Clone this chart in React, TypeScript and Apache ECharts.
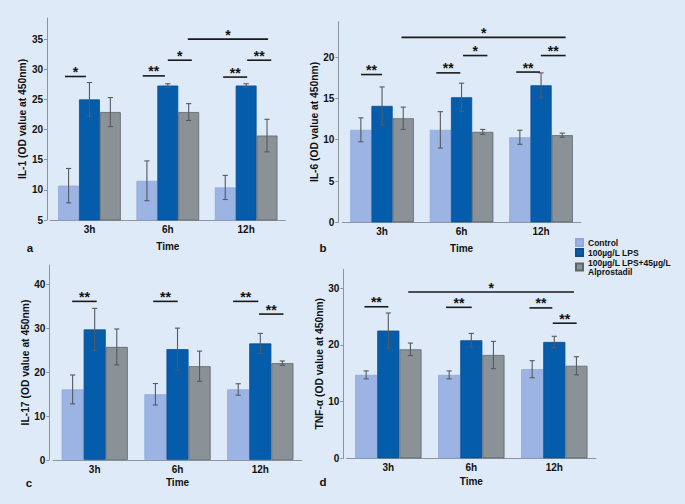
import React, { useEffect, useRef } from "react";
import * as echarts from "echarts";

// ---------- data ----------
const categories = ["3h", "6h", "12h"];
const groupNames = ["Control", "100µg/L LPS", "100µg/L LPS+45µg/L\nAlprostadil"];

// IL-1 (panel a)
const il1Control = [10.7, 11.5, 10.4];
const il1ControlSd = [2.85, 3.3, 2.0];
const il1Lps = [25.0, 27.3, 27.3];
const il1LpsSd = [2.8, 0.3, 0.3];
const il1Alpro = [22.9, 22.9, 19.0];
const il1AlproSd = [2.4, 1.4, 2.7];
const il1Ticks = [5, 10, 15, 20, 25, 30, 35];
// bracket: [cat1, barOffset1, cat2, barOffset2, y, label]
const il1Brackets: [number, number, number, number, number, string][] = [
  [0, -1.17, 0, -0.17, 28.8, "*"],
  [1, -1.2, 1, -0.14, 28.9, "**"],
  [1, 0.0, 1, 1.15, 31.5, "*"],
  [1, 0.96, 2, 1.05, 35.0, "*"],
  [2, 0.05, 2, 1.2, 31.5, "**"],
  [2, -1.1, 2, 0.05, 28.7, "**"],
];

// IL-6 (panel b)
const il6Control = [11.2, 11.2, 10.3];
const il6ControlSd = [1.45, 2.2, 0.85];
const il6Lps = [14.1, 15.15, 16.6];
const il6LpsSd = [2.3, 1.7, 1.5];
const il6Alpro = [12.6, 10.95, 10.55];
const il6AlproSd = [1.35, 0.3, 0.25];
const il6Ticks = [0, 5, 10, 15, 20];
const il6Brackets: [number, number, number, number, number, string][] = [
  [0, -0.99, 0, 0.0, 17.9, "**"],
  [1, -1.19, 1, -0.06, 18.1, "**"],
  [1, 0.07, 1, 1.22, 20.2, "*"],
  [0, 0.92, 2, 1.16, 22.4, "*"],
  [2, -1.17, 2, -0.05, 18.2, "**"],
  [2, -0.01, 2, 1.16, 20.2, "**"],
];

// IL-17 (panel c)
const il17Control = [16.1, 15.0, 16.1];
const il17ControlSd = [3.3, 2.45, 1.3];
const il17Lps = [29.8, 25.3, 26.6];
const il17LpsSd = [4.8, 4.8, 2.3];
const il17Alpro = [25.8, 21.4, 22.1];
const il17AlproSd = [4.1, 3.45, 0.5];
const il17Ticks = [0, 10, 20, 30, 40];
const il17Brackets: [number, number, number, number, number, string][] = [
  [0, -1.02, 0, 0.09, 36.2, "**"],
  [1, -1.1, 1, 0.01, 36.2, "**"],
  [2, -1.23, 2, -0.09, 36.2, "**"],
  [2, -0.06, 2, 1.05, 33.3, "**"],
];

// TNF-α (panel d)
const tnfControl = [14.7, 14.7, 15.7];
const tnfControlSd = [0.7, 0.7, 1.5];
const tnfLps = [22.5, 20.8, 20.5];
const tnfLpsSd = [3.1, 1.2, 1.0];
const tnfAlpro = [19.2, 18.2, 16.3];
const tnfAlproSd = [1.1, 2.4, 1.6];
const tnfTicks = [0, 10, 20, 30];
const tnfBrackets: [number, number, number, number, number, string][] = [
  [0, -1.08, 0, 0.0, 26.7, "**"],
  [0, 0.9, 2, 0.89, 29.3, "*"],
  [1, -1.14, 1, 0.02, 26.6, "**"],
  [2, -1.12, 2, -0.09, 26.5, "**"],
  [2, -0.07, 2, 1.01, 23.8, "**"],
];

// ---------- styles ----------
const FONT = "'Liberation Sans', Arial, sans-serif";
const BG = "#deeaf7";
const COLORS = ["#9bb4e4", "#055cab", "#8a9298"];
const BORDERS = ["#90a9da", "#0a4f92", "#5f6569"];
const AXIS_COLOR = "#8d949b";
const GAP = 0.2;

type Panel = {
  name: string;
  min: number;
  max: number;
  ticks: number[];
  means: number[][];
  sds: number[][];
  brackets: [number, number, number, number, number, string][];
  grid: { left: number; top: number; width: number; height: number };
  yOffset: number;
  xNameGap: number;
};

const panels: Panel[] = [
  {
    name: "IL-1 (OD value at 450nm)",
    min: 5,
    max: 38.5,
    ticks: il1Ticks,
    means: [il1Control, il1Lps, il1Alpro],
    sds: [il1ControlSd, il1LpsSd, il1AlproSd],
    brackets: il1Brackets,
    grid: { left: 50.3, top: 18, width: 235, height: 202 },
    yOffset: 3.3,
    xNameGap: 21,
  },
  {
    name: "IL-6 (OD value at 450nm)",
    min: 0,
    max: 24.3,
    ticks: il6Ticks,
    means: [il6Control, il6Lps, il6Alpro],
    sds: [il6ControlSd, il6LpsSd, il6AlproSd],
    brackets: il6Brackets,
    grid: { left: 342.3, top: 21.7, width: 238.5, height: 200.6 },
    yOffset: 4,
    xNameGap: 21.5,
  },
  {
    name: "IL-17 (OD value at 450nm)",
    min: 0,
    max: 44.5,
    ticks: il17Ticks,
    means: [il17Control, il17Lps, il17Alpro],
    sds: [il17ControlSd, il17LpsSd, il17AlproSd],
    brackets: il17Brackets,
    grid: { left: 53.3, top: 265, width: 248.4, height: 195 },
    yOffset: 4,
    xNameGap: 17,
  },
  {
    name: "TNF-α (OD value at 450nm)",
    min: 0,
    max: 33.3,
    ticks: tnfTicks,
    means: [tnfControl, tnfLps, tnfAlpro],
    sds: [tnfControlSd, tnfLpsSd, tnfAlproSd],
    brackets: tnfBrackets,
    grid: { left: 346.8, top: 269.3, width: 249, height: 189 },
    yOffset: 3.5,
    xNameGap: 18.5,
  },
];

function buildOption() {
  const grid: any[] = [];
  const xAxis: any[] = [];
  const yAxis: any[] = [];
  const series: any[] = [];

  panels.forEach((p, pi) => {
    grid.push({ ...p.grid });
    xAxis.push({
      type: "category",
      gridIndex: pi,
      data: categories,
      name: "Time",
      nameLocation: "middle",
      nameGap: p.xNameGap,
      nameTextStyle: { fontFamily: FONT, fontWeight: "bold", fontSize: 10, color: "#111" },
      axisLine: { lineStyle: { color: AXIS_COLOR, width: 1 } },
      axisTick: { alignWithLabel: true, length: 3, lineStyle: { color: AXIS_COLOR } },
      axisLabel: { fontFamily: FONT, fontWeight: "bold", fontSize: 10, color: "#111", margin: 4.5 },
      splitLine: { show: false },
    });
    yAxis.push({
      type: "value",
      gridIndex: pi,
      min: p.min,
      max: p.max,
      offset: p.yOffset,
      name: p.name,
      nameLocation: "middle",
      nameGap: 17,
      nameRotate: 90,
      nameTextStyle: { fontFamily: FONT, fontWeight: "bold", fontSize: 10.3, color: "#111" },
      axisLine: { show: true, lineStyle: { color: AXIS_COLOR, width: 1 } },
      axisTick: { show: true, length: 3, customValues: p.ticks, lineStyle: { color: AXIS_COLOR } },
      axisLabel: {
        customValues: p.ticks,
        fontFamily: FONT,
        fontWeight: "bold",
        fontSize: 10,
        color: "#111",
        margin: 4,
      },
      splitLine: { show: false },
    });

    // bars
    for (let k = 0; k < 3; k++) {
      series.push({
        type: "bar",
        name: groupNames[k],
        xAxisIndex: pi,
        yAxisIndex: pi,
        data: p.means[k],
        barGap: "0%",
        barCategoryGap: GAP * 100 + "%",
        itemStyle: { color: COLORS[k], borderColor: BORDERS[k], borderWidth: 0.8 },
        clip: true,
      });
    }

    // error bars
    const errData: number[][] = [];
    for (let k = 0; k < 3; k++) {
      for (let c = 0; c < categories.length; c++) {
        errData.push([c, p.means[k][c] - p.sds[k][c], p.means[k][c] + p.sds[k][c], k]);
      }
    }
    series.push({
      type: "custom",
      name: "err" + pi,
      xAxisIndex: pi,
      yAxisIndex: pi,
      data: errData,
      encode: { x: 0, y: [1, 2] },
      z: 5,
      renderItem: (params: any, api: any) => {
        const cat = api.value(0);
        const lo = api.value(1);
        const hi = api.value(2);
        const k = api.value(3);
        const band = api.size([1, 0])[0];
        const bw = (band * (1 - GAP)) / 3;
        const p1 = api.coord([cat, lo]);
        const p2 = api.coord([cat, hi]);
        const x = p1[0] + (k - 1) * bw;
        const cap = 2.6;
        const st = { stroke: "#555a5e", lineWidth: 1.1 };
        return {
          type: "group",
          children: [
            { type: "line", shape: { x1: x, y1: p1[1], x2: x, y2: p2[1] }, style: st },
            { type: "line", shape: { x1: x - cap, y1: p1[1], x2: x + cap, y2: p1[1] }, style: st },
            { type: "line", shape: { x1: x - cap, y1: p2[1], x2: x + cap, y2: p2[1] }, style: st },
          ],
        };
      },
    });

    // significance brackets
    const br = p.brackets;
    series.push({
      type: "custom",
      name: "sig" + pi,
      xAxisIndex: pi,
      yAxisIndex: pi,
      data: br.map((b) => [b[0], b[1], b[2], b[3], b[4]]),
      encode: { x: 0, y: 4 },
      clip: false,
      z: 6,
      renderItem: (params: any, api: any) => {
        const label = br[params.dataIndex][5];
        const band = api.size([1, 0])[0];
        const bw = (band * (1 - GAP)) / 3;
        const y = api.value(4);
        const a = api.coord([api.value(0), y]);
        const b = api.coord([api.value(2), y]);
        const x1 = a[0] + api.value(1) * bw;
        const x2 = b[0] + api.value(3) * bw;
        return {
          type: "group",
          children: [
            {
              type: "line",
              shape: { x1, y1: a[1], x2, y2: a[1] },
              style: { stroke: "#1a1a1a", lineWidth: 1.6 },
            },
            {
              type: "text",
              x: (x1 + x2) / 2,
              y: a[1] - 4.5,
              style: {
                text: label,
                fontFamily: FONT,
                fontWeight: "bold",
                fontSize: 14,
                fill: "#111",
                align: "center",
                verticalAlign: "middle",
              },
            },
          ],
        };
      },
    });
  });

  const letters = [
    { t: "a", x: 30, y: 248 },
    { t: "b", x: 323, y: 248 },
    { t: "c", x: 29, y: 483 },
    { t: "d", x: 323, y: 482 },
  ];

  return {
    animation: false,
    backgroundColor: BG,
    textStyle: { fontFamily: FONT },
    grid,
    xAxis,
    yAxis,
    series,
    legend: {
      data: groupNames,
      orient: "vertical",
      left: 575,
      top: 238,
      padding: 0,
      itemGap: 1,
      itemWidth: 7,
      itemHeight: 7,
      icon: "rect",
      selectedMode: false,
      textStyle: { fontFamily: FONT, fontWeight: "bold", fontSize: 8.5, lineHeight: 9, color: "#111" },
    },
    graphic: letters.map((l) => ({
      type: "text",
      x: l.x,
      y: l.y,
      style: {
        text: l.t,
        fontFamily: FONT,
        fontWeight: "bold",
        fontSize: 11.5,
        fill: "#111",
        align: "center",
        verticalAlign: "middle",
      },
    })),
  };
}

export default function App() {
  const ref = useRef<HTMLDivElement>(null);
  useEffect(() => {
    if (!ref.current) return;
    const chart = echarts.init(ref.current, undefined, { renderer: "svg" });
    chart.setOption(buildOption() as any);
    return () => chart.dispose();
  }, []);
  return (
    <div
      ref={ref}
      style={{ position: "fixed", left: 0, top: 0, width: 685, height: 504, background: BG }}
    />
  );
}
